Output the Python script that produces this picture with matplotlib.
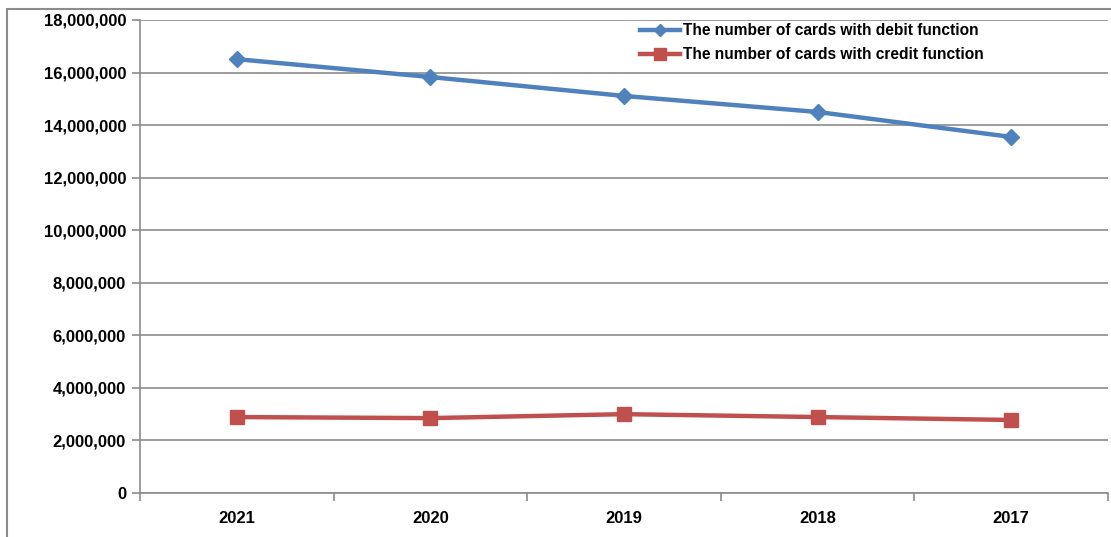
import matplotlib
matplotlib.use("Agg")
import matplotlib.pyplot as plt
from matplotlib.patches import Rectangle

years = ["2021", "2020", "2019", "2018", "2017"]
debit = [16510000, 15830000, 15110000, 14500000, 13550000]
credit = [2890000, 2850000, 3000000, 2890000, 2780000]
debit_label = "The number of cards with debit function"
credit_label = "The number of cards with credit function"

plt.rcParams['font.family'] = ['Liberation Sans', 'DejaVu Sans']

fig = plt.figure(figsize=(11.11, 5.37), dpi=100)
ax = fig.add_axes([140/1111, 1-493/537, (1108-140)/1111, (493-20)/537])

fig.patches.append(Rectangle((7/1111, -0.1), 1.2, 1-9/537+0.1, transform=fig.transFigure,
                             fill=False, edgecolor='#8c8c8c', linewidth=1.5, zorder=0))

x = list(range(len(years)))
ax.plot(x, debit, color='#4F81BD', linewidth=3.2, marker='D', markersize=8,
        label=debit_label, zorder=3)
ax.plot(x, credit, color='#C0504D', linewidth=3.2, marker='s', markersize=10,
        label=credit_label, zorder=3)

ax.set_xlim(-0.5, 4.5)
ax.set_ylim(0, 18000000)
ax.set_yticks(range(0, 18000001, 2000000))
ax.yaxis.set_major_formatter(matplotlib.ticker.FuncFormatter(lambda v, p: f"{int(v):,}"))
ax.grid(axis='y', color='#8c8c8c', linewidth=1.2)
ax.set_axisbelow(True)

ax.set_xticks(x)
ax.set_xticklabels(years)
ax.set_xticks([i - 0.5 for i in range(len(years) + 1)], minor=True)
ax.tick_params(axis='x', which='major', length=0, pad=13)
ax.tick_params(axis='x', which='minor', length=6, color='#8c8c8c', width=1.2)
ax.tick_params(axis='y', length=6, color='#8c8c8c', width=1.2, pad=4)
for lab in ax.get_xticklabels() + ax.get_yticklabels():
    lab.set_fontweight('bold')
    lab.set_fontsize(12)

for s in ['top', 'right']:
    ax.spines[s].set_visible(False)
for s in ['left', 'bottom']:
    ax.spines[s].set_color('#8c8c8c')
    ax.spines[s].set_linewidth(1.2)

leg = ax.legend(loc='upper left', bbox_to_anchor=(492/968, 1.01), frameon=False,
                prop={'weight': 'bold', 'size': 11.2}, handlelength=2.6,
                handletextpad=0.2, labelspacing=0.6, borderaxespad=0.1,
                markerscale=0.8)

fig.savefig("out.png", dpi=100)
